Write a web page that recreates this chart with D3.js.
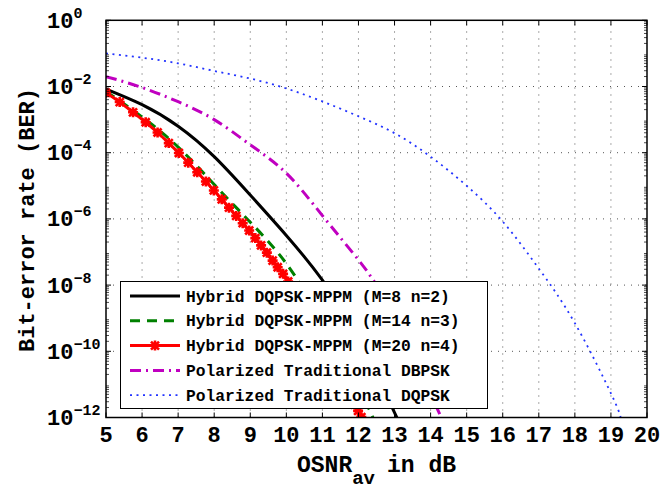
<!DOCTYPE html>
<html>
<head>
<meta charset="utf-8">
<script src="https://cdn.jsdelivr.net/npm/d3@7"></script>
<style>
body { margin: 0; background: #fff; }
text { font-family: "Liberation Mono", monospace; font-weight: bold; fill: #000; }
</style>
</head>
<body>
<div id="chart"></div>
<script>
// x = OSNR_av in dB, y = log10(BER)
var hybrid8X = [5, 6, 7, 8, 9, 10, 11, 12, 13, 13.15];
var hybrid8Y = [-2.08, -2.55, -3.2, -4.12, -5.28, -6.5, -7.85, -9.62, -11.85, -12.2];

var hybrid14X = [5, 6, 7, 8, 9, 10, 11, 12, 12.4, 12.5];
var hybrid14Y = [-2.15, -2.92, -3.83, -4.96, -6.1, -7.35, -9.1, -11.1, -12.0, -12.25];

// red curve, one point per marker
var hybrid20X = [5.00, 5.38, 5.75, 6.10, 6.43, 6.74, 7.02, 7.28, 7.53, 7.77, 7.99, 8.21, 8.41, 8.61,
    8.79, 8.97, 9.14, 9.30, 9.46, 9.62, 9.76, 9.91, 10.05, 10.18, 10.31, 10.44, 10.56, 10.68,
    10.80, 10.91, 11.02, 11.13, 11.23, 11.33, 11.43, 11.53, 11.63, 11.72, 11.81, 11.90, 11.99, 12.08];
var hybrid20Y = [-2.19, -2.47, -2.78, -3.08, -3.39, -3.71, -4.01, -4.30, -4.59, -4.87, -5.14, -5.41, -5.66, -5.91,
    -6.13, -6.35, -6.58, -6.80, -7.02, -7.26, -7.46, -7.66, -7.89, -8.12, -8.36, -8.60, -8.83, -9.06,
    -9.29, -9.52, -9.75, -9.98, -10.18, -10.39, -10.60, -10.81, -11.02, -11.22, -11.41, -11.61, -11.80, -11.99];

var dbpskX = [5, 6, 7, 8, 9, 10, 11, 12, 12.41, 13, 14, 14.3, 14.4];
var dbpskY = [-1.70, -2.03, -2.46, -3.0, -3.76, -4.62, -5.9, -7.24, -7.85, -8.95, -11.3, -12.0, -12.25];

var dqpskX = [5, 6, 7, 8, 9, 10, 11, 12, 13, 14, 15, 16, 17, 18, 19, 19.27];
var dqpskY = [-1.0, -1.13, -1.30, -1.53, -1.76, -2.06, -2.45, -2.9, -3.41, -4.12, -5.0, -6.08, -7.5, -9.15, -11.27, -12.0];

var legendLabels = [
    'Hybrid DQPSK-MPPM (M=8 n=2)',
    'Hybrid DQPSK-MPPM (M=14 n=3)',
    'Hybrid DQPSK-MPPM (M=20 n=4)',
    'Polarized Traditional DBPSK',
    'Polarized Traditional DQPSK'
];

var xTickValues = [5, 6, 7, 8, 9, 10, 11, 12, 13, 14, 15, 16, 17, 18, 19, 20];
var yTickExps = [0, -2, -4, -6, -8, -10, -12];

var W = 662, H = 487;
var pLeft = 106, pRight = 647, pTop = 20.3, pBottom = 417.5;

var x = d3.scaleLinear().domain([5, 20]).range([pLeft, pRight]);
var y = d3.scaleLog().domain([1e-12, 1]).range([pBottom, pTop]);

var svg = d3.select('#chart').append('svg')
    .attr('width', W).attr('height', H);

svg.append('defs').append('clipPath').attr('id', 'plotclip')
    .append('rect')
    .attr('x', pLeft).attr('y', pTop)
    .attr('width', pRight - pLeft).attr('height', pBottom - pTop);

// grid (dotted)
var grid = svg.append('g').attr('stroke', '#555').attr('stroke-width', 1)
    .attr('stroke-dasharray', '1,6');
xTickValues.slice(1, -1).forEach(function (v) {
    grid.append('line')
        .attr('x1', x(v)).attr('x2', x(v))
        .attr('y1', pBottom).attr('y2', pTop);
});
yTickExps.slice(1, -1).forEach(function (e) {
    grid.append('line')
        .attr('x1', pLeft).attr('x2', pRight)
        .attr('y1', y(Math.pow(10, e))).attr('y2', y(Math.pow(10, e)));
});

function zip(xs, ys) {
    return xs.map(function (v, i) { return [v, ys[i]]; });
}

var line = d3.line()
    .x(function (d) { return x(d[0]); })
    .y(function (d) { return y(Math.pow(10, d[1])); })
    .curve(d3.curveNatural);

var series = [
    { data: zip(dqpskX, dqpskY), color: '#2233ff', width: 1.8, dash: '2,4.5' },
    { data: zip(dbpskX, dbpskY), color: '#c000c0', width: 3, dash: '11,5,2,5' },
    { data: zip(hybrid8X, hybrid8Y), color: '#000', width: 3, dash: null },
    { data: zip(hybrid14X, hybrid14Y), color: '#008000', width: 3, dash: '10,7' },
    { data: zip(hybrid20X, hybrid20Y), color: '#ff0000', width: 3, dash: null, marker: true }
];

var plot = svg.append('g').attr('clip-path', 'url(#plotclip)');

var starPath = 'M-4,-4L4,4M-4,4L4,-4M0,-5L0,5M-5,0L5,0';

series.forEach(function (s) {
    plot.append('path')
        .attr('d', line(s.data))
        .attr('fill', 'none')
        .attr('stroke', s.color)
        .attr('stroke-width', s.width)
        .attr('stroke-dasharray', s.dash);
    if (s.marker) {
        plot.selectAll(null).data(s.data).enter().append('path')
            .attr('transform', function (d) {
                return 'translate(' + x(d[0]) + ',' + y(Math.pow(10, d[1])) + ')';
            })
            .attr('d', starPath)
            .attr('stroke', s.color)
            .attr('stroke-width', 2.6)
            .attr('fill', 'none');
    }
});

// axes box and ticks
var axes = svg.append('g').attr('stroke', '#000');
axes.append('rect')
    .attr('x', pLeft).attr('y', pTop)
    .attr('width', pRight - pLeft).attr('height', pBottom - pTop)
    .attr('fill', 'none').attr('stroke-width', 1.5);

xTickValues.forEach(function (v) {
    axes.append('line').attr('x1', x(v)).attr('x2', x(v))
        .attr('y1', pBottom).attr('y2', pBottom - 5);
    axes.append('line').attr('x1', x(v)).attr('x2', x(v))
        .attr('y1', pTop).attr('y2', pTop + 5);
});

yTickExps.forEach(function (e) {
    var yy = y(Math.pow(10, e));
    axes.append('line').attr('x1', pLeft).attr('x2', pLeft + 5).attr('y1', yy).attr('y2', yy);
    axes.append('line').attr('x1', pRight).attr('x2', pRight - 5).attr('y1', yy).attr('y2', yy);
});

// minor log ticks
for (var k = -12; k < 0; k++) {
    for (var m = 2; m <= 9; m++) {
        var ym = y(m * Math.pow(10, k));
        axes.append('line').attr('x1', pLeft).attr('x2', pLeft + 3).attr('y1', ym).attr('y2', ym).attr('stroke-width', 0.7);
        axes.append('line').attr('x1', pRight).attr('x2', pRight - 3).attr('y1', ym).attr('y2', ym).attr('stroke-width', 0.7);
    }
}

// tick labels
svg.append('g').selectAll('text').data(xTickValues).enter().append('text')
    .attr('x', function (d) { return x(d); })
    .attr('y', 442)
    .attr('text-anchor', 'middle')
    .attr('font-size', 22)
    .text(function (d) { return d; });

var yl = svg.append('g').selectAll('text').data(yTickExps).enter().append('text')
    .attr('x', 47)
    .attr('y', function (d) { return y(Math.pow(10, d)) + 7.5; })
    .attr('font-size', 22);
yl.append('tspan').text('10');
yl.append('tspan')
    .attr('dy', -10)
    .attr('font-size', 15)
    .text(function (d) { return d === 0 ? '0' : '\u2212' + (-d); });

// axis titles
svg.append('text')
    .attr('transform', 'translate(34,220) rotate(-90)')
    .attr('text-anchor', 'middle')
    .attr('font-size', 22)
    .text('Bit-error rate (BER)');

var xt = svg.append('text')
    .attr('x', 297).attr('y', 472)
    .attr('font-size', 23);
xt.append('tspan').text('OSNR');
xt.append('tspan').attr('dy', 12).attr('font-size', 19).text('av');
xt.append('tspan').attr('dy', -12).attr('dx', 12).text('in dB');

// legend
var lg = svg.append('g');
lg.append('rect')
    .attr('x', 120.5).attr('y', 281.5)
    .attr('width', 367).attr('height', 127)
    .attr('fill', '#fff').attr('stroke', '#000').attr('stroke-width', 1);

var legendOrder = [2, 3, 4, 1, 0];
legendLabels.forEach(function (label, i) {
    var s = series[legendOrder[i]];
    var cy = 296 + i * 24.8;
    lg.append('line')
        .attr('x1', 130).attr('x2', 180)
        .attr('y1', cy).attr('y2', cy)
        .attr('stroke', s.color)
        .attr('stroke-width', s.width)
        .attr('stroke-dasharray', s.dash);
    if (s.marker) {
        lg.append('path')
            .attr('transform', 'translate(155,' + cy + ')')
            .attr('d', starPath)
            .attr('stroke', s.color).attr('stroke-width', 2.6);
    }
    lg.append('text')
        .attr('x', 186).attr('y', cy + 5.5)
        .attr('font-size', 16.3)
        .text(label);
});
</script>
</body>
</html>
